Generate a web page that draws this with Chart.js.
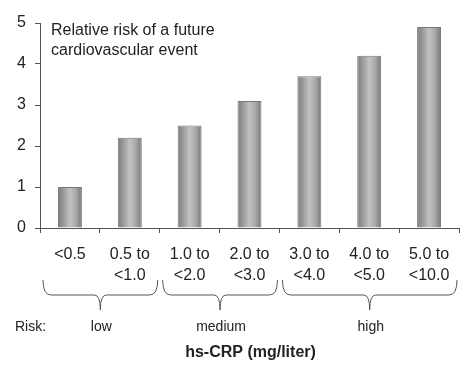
<!DOCTYPE html>
<html>
<head>
<meta charset="utf-8">
<script src="https://cdn.jsdelivr.net/npm/chart.js@4"></script>
<style>
  html, body { margin: 0; padding: 0; background: #fff; }
  #wrap { width: 474px; height: 371px; position: relative; }
</style>
</head>
<body>
<div id="wrap"><canvas id="c"></canvas></div>
<script>
const categories = [['<0.5'], ['0.5 to', '<1.0'], ['1.0 to', '<2.0'], ['2.0 to', '<3.0'], ['3.0 to', '<4.0'], ['4.0 to', '<5.0'], ['5.0 to', '<10.0']];
const relativeRisk = [1.0, 2.2, 2.5, 3.1, 3.7, 4.2, 4.9];
const yTicks = [0, 1, 2, 3, 4, 5];
const riskLevels = ['low', 'medium', 'high'];
const riskFirstCategory = [0, 2, 4];
const riskLastCategory = [1, 3, 6];
const riskRowLabel = 'Risk:';
const axisTitle = 'hs-CRP (mg/liter)';
const noteLines = ['Relative risk of a future', 'cardiovascular event'];

const FONT = '"Liberation Sans", Arial, Helvetica, sans-serif';
const TEXT = '#222';
const LINE = '#555';

function barFill(ctx) {
  const chart = ctx.chart;
  const xs = chart.scales.x;
  if (!xs || !chart.chartArea || ctx.dataIndex === undefined) return '#a0a0a0';
  const cx = xs.getPixelForValue(ctx.dataIndex);
  const w = xs.width / categories.length * 0.4;
  const g = chart.ctx.createLinearGradient(cx - w / 2, 0, cx + w / 2, 0);
  g.addColorStop(0, '#7e7e7e');
  g.addColorStop(0.2, '#969696');
  g.addColorStop(0.5, '#c2c2c2');
  g.addColorStop(0.75, '#a8a8a8');
  g.addColorStop(1, '#777777');
  return g;
}

function drawBrace(c, x1, x2, yTop, yBot) {
  const xm = (x1 + x2) / 2;
  const ymid = (yTop + yBot) / 2;
  const r = 8;
  c.beginPath();
  c.moveTo(x1, yTop);
  c.quadraticCurveTo(x1, ymid, x1 + r, ymid);
  c.lineTo(xm - r / 2 - 2, ymid);
  c.quadraticCurveTo(xm, ymid, xm, yBot);
  c.quadraticCurveTo(xm, ymid, xm + r / 2 + 2, ymid);
  c.lineTo(x2 - r, ymid);
  c.quadraticCurveTo(x2, ymid, x2, yTop);
  c.stroke();
}

const annotations = {
  id: 'annotations',
  afterDraw(chart) {
    const c = chart.ctx;
    const xs = chart.scales.x;
    const area = chart.chartArea;
    const step = xs.width / categories.length;
    c.save();
    c.fillStyle = TEXT;
    c.textBaseline = 'middle';
    c.font = '16px ' + FONT;
    c.textAlign = 'left';
    noteLines.forEach((t, i) => c.fillText(t, area.left + 11, 31 + i * 20));
    c.strokeStyle = LINE;
    c.lineWidth = 1;
    riskLevels.forEach((lvl, i) => {
      const x1 = xs.getPixelForValue(riskFirstCategory[i]) - step / 2 + 3;
      const x2 = xs.getPixelForValue(riskLastCategory[i]) + step / 2 - 2;
      drawBrace(c, x1, x2, 280, 310);
      c.font = '14px ' + FONT;
      c.textAlign = 'center';
      c.fillText(lvl, (x1 + x2) / 2 + 1, 327);
    });
    c.textAlign = 'left';
    c.font = '14px ' + FONT;
    c.fillText(riskRowLabel, 15, 327);
    c.font = 'bold 16px ' + FONT;
    c.textAlign = 'center';
    c.fillText(axisTitle, (area.left + area.right) / 2 + 1, 353);
    c.restore();
  }
};

new Chart(document.getElementById('c'), {
  type: 'bar',
  data: {
    labels: categories,
    datasets: [{
      data: relativeRisk,
      backgroundColor: barFill,
      borderColor: '#777',
      borderWidth: 1,
      categoryPercentage: 1,
      barPercentage: 0.4
    }]
  },
  options: {
    responsive: true,
    maintainAspectRatio: false,
    animation: false,
    layout: { padding: { left: 0, top: 23, right: 15, bottom: 0 } },
    plugins: { legend: { display: false }, tooltip: { enabled: false } },
    scales: {
      x: {
        offset: true,
        grid: { display: true, offset: true, drawOnChartArea: false, drawTicks: true, tickLength: 5, color: LINE },
        border: { display: true, color: LINE },
        ticks: { color: TEXT, font: { family: FONT, size: 16, lineHeight: 1.3 }, padding: 11, maxRotation: 0, autoSkip: false },
        afterFit(s) { s.height = 143; }
      },
      y: {
        min: 0, max: 5,
        afterBuildTicks(s) { s.ticks = yTicks.map(v => ({ value: v })); },
        grid: { display: true, drawOnChartArea: false, drawTicks: true, tickLength: 5, color: LINE },
        border: { display: true, color: LINE },
        ticks: { color: TEXT, font: { family: FONT, size: 16 }, padding: 9 },
        afterFit(s) { s.width = 40; }
      }
    }
  },
  plugins: [annotations]
});
</script>
</body>
</html>
